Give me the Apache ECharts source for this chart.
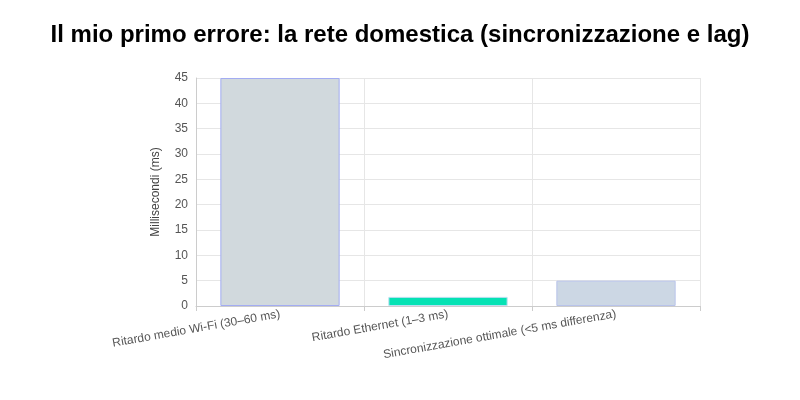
<!DOCTYPE html>
<html lang="it">
<head>
    <meta charset="UTF-8">
    <title>Rete domestica</title>
    <script src="https://cdn.jsdelivr.net/npm/echarts@6/dist/echarts.min.js"></script>
</head>
<body style="margin:0">
<div id="chart" style="width:800px;height:400px"></div>
<script>
    var categories = ['Ritardo medio Wi-Fi (30–60 ms)', 'Ritardo Ethernet (1–3 ms)', 'Sincronizzazione ottimale (<5 ms differenza)'];
    var values = [45, 1.8, 5];
    var fills = ['#d1d9dd', '#05e2b4', '#ccd7e4'];
    var borders = ['#a3acf2', '#b9def0', '#b8c3ea'];

    var myChart = echarts.init(document.getElementById('chart'));
    myChart.setOption({
        title: {
            text: 'Il mio primo errore: la rete domestica (sincronizzazione e lag)',
            left: 'center',
            top: 18,
            textStyle: {fontSize: 24, fontWeight: 'bold', color: '#000', fontFamily: 'Liberation Sans'}
        },
        grid: {left: 196, right: 100, top: 78, bottom: 94},
        xAxis: {
            type: 'category',
            data: categories.map(function (c, i) {
                return i === 2 ? {value: c, textStyle: {padding: [20, 0, 0, 0]}} : c;
            }),
            axisLine: {lineStyle: {color: '#ccc'}},
            axisTick: {show: true, alignWithLabel: false, lineStyle: {color: '#ccc'}},
            splitLine: {show: true, lineStyle: {color: '#e6e6e6'}},
            axisLabel: {rotate: 10, interval: 0, color: '#555', fontSize: 12, fontFamily: 'Liberation Sans'}
        },
        yAxis: {
            type: 'value',
            min: 0, max: 45, interval: 5,
            name: 'Millisecondi (ms)',
            nameLocation: 'middle',
            nameGap: 34,
            nameTextStyle: {color: '#444', fontSize: 12, fontFamily: 'Liberation Sans'},
            axisLine: {show: true, lineStyle: {color: '#ccc'}},
            splitLine: {lineStyle: {color: '#e6e6e6'}},
            axisLabel: {color: '#555', fontSize: 12, fontFamily: 'Liberation Sans'}
        },
        series: [{
            type: 'bar',
            barWidth: '71%',
            data: values.map(function (v, i) {
                return {value: v, itemStyle: {color: fills[i], borderColor: borders[i], borderWidth: 1}};
            })
        }]
    });
</script>
</body>
</html>
